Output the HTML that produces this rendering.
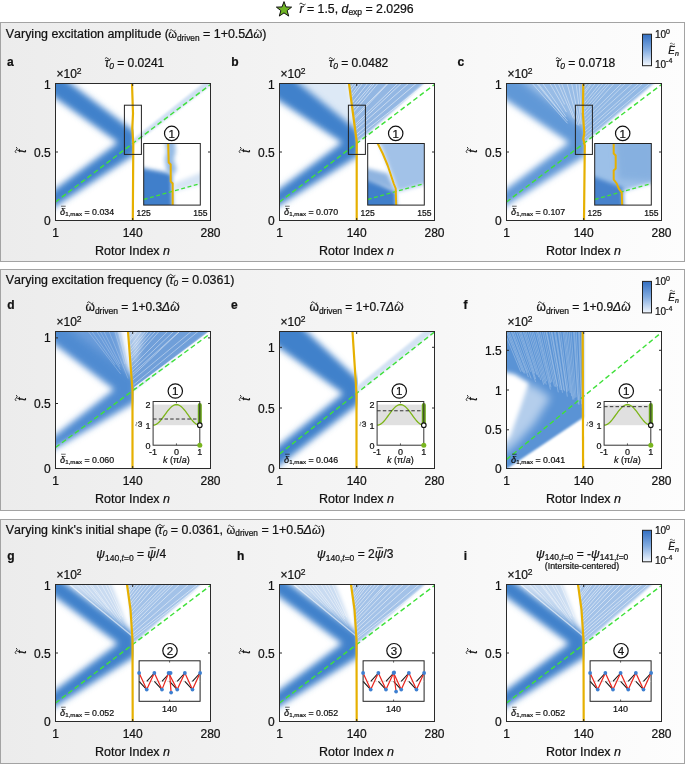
<!DOCTYPE html>
<html><head><meta charset="utf-8"><style>
html,body{margin:0;padding:0;background:#fff;}
body{width:685px;height:764px;overflow:hidden;}
svg{display:block;will-change:transform;font-family:"Liberation Sans", sans-serif;font-kerning:none;}
text{font-family:"Liberation Sans", sans-serif;white-space:pre;stroke:#111;stroke-width:0.22px;}
</style></head><body>
<svg width="685" height="764" viewBox="0 0 685 764">
<defs>
<linearGradient id="bg" x1="0" y1="0" x2="1" y2="0"><stop offset="0" stop-color="#ececec"/><stop offset="1" stop-color="#fdfdfd"/></linearGradient>
<linearGradient id="cb" x1="0" y1="0" x2="0" y2="1"><stop offset="0" stop-color="#336fc2"/><stop offset="0.5" stop-color="#83ace0"/><stop offset="1" stop-color="#f2f7fd"/></linearGradient>
<filter id="bl4" x="-30%" y="-30%" width="160%" height="160%"><feGaussianBlur stdDeviation="4"/></filter>
<filter id="bl3" x="-30%" y="-30%" width="160%" height="160%"><feGaussianBlur stdDeviation="3"/></filter>
<filter id="bl2" x="-30%" y="-30%" width="160%" height="160%"><feGaussianBlur stdDeviation="2"/></filter>
<filter id="bl05" x="-30%" y="-30%" width="160%" height="160%"><feGaussianBlur stdDeviation="0.5"/></filter>
<filter id="bl1" x="-30%" y="-30%" width="160%" height="160%"><feGaussianBlur stdDeviation="1"/></filter>
<clipPath id="cp00"><rect x="55.5" y="83.5" width="155" height="137"/></clipPath>
<clipPath id="vl00"><rect x="55.5" y="83.5" width="78.2" height="137"/></clipPath>
<clipPath id="cp01"><rect x="279.5" y="83.5" width="155" height="137"/></clipPath>
<clipPath id="vl01"><rect x="279.5" y="83.5" width="78.2" height="137"/></clipPath>
<clipPath id="cp02"><rect x="506.5" y="83.5" width="155" height="137"/></clipPath>
<clipPath id="vl02"><rect x="506.5" y="83.5" width="78.2" height="137"/></clipPath>
<clipPath id="cp10"><rect x="55.5" y="331.5" width="155" height="137"/></clipPath>
<clipPath id="vl10"><rect x="55.5" y="331.5" width="78.2" height="137"/></clipPath>
<clipPath id="cp11"><rect x="279.5" y="331.5" width="155" height="137"/></clipPath>
<clipPath id="vl11"><rect x="279.5" y="331.5" width="78.2" height="137"/></clipPath>
<clipPath id="cp12"><rect x="506.5" y="331.5" width="155" height="137"/></clipPath>
<clipPath id="vl12"><rect x="506.5" y="331.5" width="78.2" height="137"/></clipPath>
<clipPath id="cp20"><rect x="55.5" y="584.5" width="155" height="137"/></clipPath>
<clipPath id="vl20"><rect x="55.5" y="584.5" width="78.2" height="137"/></clipPath>
<clipPath id="cp21"><rect x="279.5" y="584.5" width="155" height="137"/></clipPath>
<clipPath id="vl21"><rect x="279.5" y="584.5" width="78.2" height="137"/></clipPath>
<clipPath id="cp22"><rect x="506.5" y="584.5" width="155" height="137"/></clipPath>
<clipPath id="vl22"><rect x="506.5" y="584.5" width="78.2" height="137"/></clipPath>
</defs>
<rect x="0" y="0" width="685" height="764" fill="#fff"/>
<rect x="0.5" y="22.5" width="684" height="239" fill="url(#bg)" stroke="#a3a3a3" stroke-width="1"/>
<rect x="0.5" y="269.5" width="684" height="241" fill="url(#bg)" stroke="#a3a3a3" stroke-width="1"/>
<rect x="0.5" y="519.5" width="684" height="244" fill="url(#bg)" stroke="#a3a3a3" stroke-width="1"/>
<polygon points="284.00,1.60 285.94,6.93 291.61,7.13 287.14,10.62 288.70,16.07 284.00,12.90 279.30,16.07 280.86,10.62 276.39,7.13 282.06,6.93" fill="#6fb524" stroke="#111" stroke-width="1" stroke-linejoin="miter"/>
<text x="299.50" y="12.60" font-size="12.3" font-style="italic" fill="#111">r</text><path d="M299.46,4.05 q1.54,-2.09 3.08,0 t3.08,0" fill="none" stroke="#111" stroke-width="0.86"/><text x="303.60" y="12.60" font-size="12.3" fill="#111"> = 1.5, </text><text x="341.55" y="12.60" font-size="12.3" font-style="italic" fill="#111">d</text><text x="348.39" y="15.20" font-size="8.5" fill="#111">exp</text><text x="362.09" y="12.60" font-size="12.3" fill="#111"> = 2.0296</text>
<text x="5.80" y="38.20" font-size="12.45" fill="#111">Varying excitation amplitude (</text><text x="168.20" y="38.20" font-size="11.205" fill="#111">ω</text><path d="M169.77,30.52 q1.40,-1.90 2.80,0 t2.80,0" fill="none" stroke="#111" stroke-width="0.78"/><text x="176.94" y="40.80" font-size="8.3" fill="#111">driven</text><text x="199.55" y="38.20" font-size="12.45" fill="#111"> = 1+0.5</text><text x="245.24" y="38.20" font-size="12.45" font-style="italic" fill="#111">Δ</text><text x="253.60" y="38.20" font-size="11.205" font-style="italic" fill="#111">ω</text><path d="M256.05,30.52 q1.40,-1.90 2.80,0 t2.80,0" fill="none" stroke="#111" stroke-width="0.78"/><text x="262.32" y="38.20" font-size="12.45" fill="#111">)</text>
<text x="5.80" y="283.80" font-size="12.45" fill="#111">Varying excitation frequency (</text><text x="168.89" y="283.80" font-size="12.45" font-style="italic" fill="#111">τ</text><path d="M169.10,275.40 q1.56,-2.12 3.11,0 t3.11,0" fill="none" stroke="#111" stroke-width="0.87"/><text x="173.55" y="286.40" font-size="8.3" font-style="italic" fill="#111">0</text><text x="178.16" y="283.80" font-size="12.45" fill="#111"> = 0.0361)</text>
<text x="5.80" y="533.80" font-size="12.45" fill="#111">Varying kink's initial shape (</text><text x="158.11" y="533.80" font-size="12.45" font-style="italic" fill="#111">τ</text><path d="M158.32,525.40 q1.56,-2.12 3.11,0 t3.11,0" fill="none" stroke="#111" stroke-width="0.87"/><text x="162.77" y="536.40" font-size="8.3" font-style="italic" fill="#111">0</text><text x="167.38" y="533.80" font-size="12.45" fill="#111"> = 0.0361, </text><text x="226.57" y="533.80" font-size="11.205" fill="#111">ω</text><path d="M228.14,526.12 q1.40,-1.90 2.80,0 t2.80,0" fill="none" stroke="#111" stroke-width="0.78"/><text x="235.32" y="536.40" font-size="8.3" fill="#111">driven</text><text x="257.93" y="533.80" font-size="12.45" fill="#111"> = 1+0.5</text><text x="303.62" y="533.80" font-size="12.45" font-style="italic" fill="#111">Δ</text><text x="311.97" y="533.80" font-size="11.205" font-style="italic" fill="#111">ω</text><path d="M314.43,526.12 q1.40,-1.90 2.80,0 t2.80,0" fill="none" stroke="#111" stroke-width="0.78"/><text x="320.70" y="533.80" font-size="12.45" fill="#111">)</text>
<text x="7.00" y="66.00" font-size="12" font-weight="bold" fill="#111">a</text>
<text x="231.20" y="66.00" font-size="12" font-weight="bold" fill="#111">b</text>
<text x="457.60" y="66.00" font-size="12" font-weight="bold" fill="#111">c</text>
<text x="7.20" y="309.30" font-size="12" font-weight="bold" fill="#111">d</text>
<text x="231.00" y="309.30" font-size="12" font-weight="bold" fill="#111">e</text>
<text x="463.40" y="309.30" font-size="12" font-weight="bold" fill="#111">f</text>
<text x="7.20" y="560.00" font-size="12" font-weight="bold" fill="#111">g</text>
<text x="237.00" y="560.00" font-size="12" font-weight="bold" fill="#111">h</text>
<text x="463.80" y="560.00" font-size="12" font-weight="bold" fill="#111">i</text>
<text x="104.70" y="66.70" font-size="12" font-style="italic" fill="#111">τ</text><path d="M104.91,58.60 q1.50,-2.04 3.00,0 t3.00,0" fill="none" stroke="#111" stroke-width="0.84"/><text x="109.19" y="69.30" font-size="8.5" font-style="italic" fill="#111">0</text><text x="113.92" y="66.70" font-size="12" fill="#111"> = 0.0241</text>
<text x="328.70" y="66.70" font-size="12" font-style="italic" fill="#111">τ</text><path d="M328.91,58.60 q1.50,-2.04 3.00,0 t3.00,0" fill="none" stroke="#111" stroke-width="0.84"/><text x="333.19" y="69.30" font-size="8.5" font-style="italic" fill="#111">0</text><text x="337.92" y="66.70" font-size="12" fill="#111"> = 0.0482</text>
<text x="555.70" y="66.70" font-size="12" font-style="italic" fill="#111">τ</text><path d="M555.91,58.60 q1.50,-2.04 3.00,0 t3.00,0" fill="none" stroke="#111" stroke-width="0.84"/><text x="560.19" y="69.30" font-size="8.5" font-style="italic" fill="#111">0</text><text x="564.92" y="66.70" font-size="12" fill="#111"> = 0.0718</text>
<text x="85.52" y="311.00" font-size="12.0" fill="#111">ω</text><path d="M87.21,302.78 q1.50,-2.04 3.00,0 t3.00,0" fill="none" stroke="#111" stroke-width="0.84"/><text x="94.89" y="313.60" font-size="8.5" fill="#111">driven</text><text x="118.04" y="311.00" font-size="12" fill="#111"> = 1+0.3</text><text x="162.08" y="311.00" font-size="12" font-style="italic" fill="#111">Δ</text><text x="170.13" y="311.00" font-size="12.0" font-style="italic" fill="#111">ω</text><path d="M172.77,302.78 q1.50,-2.04 3.00,0 t3.00,0" fill="none" stroke="#111" stroke-width="0.84"/>
<text x="309.52" y="311.00" font-size="12.0" fill="#111">ω</text><path d="M311.21,302.78 q1.50,-2.04 3.00,0 t3.00,0" fill="none" stroke="#111" stroke-width="0.84"/><text x="318.89" y="313.60" font-size="8.5" fill="#111">driven</text><text x="342.04" y="311.00" font-size="12" fill="#111"> = 1+0.7</text><text x="386.08" y="311.00" font-size="12" font-style="italic" fill="#111">Δ</text><text x="394.13" y="311.00" font-size="12.0" font-style="italic" fill="#111">ω</text><path d="M396.77,302.78 q1.50,-2.04 3.00,0 t3.00,0" fill="none" stroke="#111" stroke-width="0.84"/>
<text x="536.52" y="311.00" font-size="12.0" fill="#111">ω</text><path d="M538.21,302.78 q1.50,-2.04 3.00,0 t3.00,0" fill="none" stroke="#111" stroke-width="0.84"/><text x="545.89" y="313.60" font-size="8.5" fill="#111">driven</text><text x="569.04" y="311.00" font-size="12" fill="#111"> = 1+0.9</text><text x="613.08" y="311.00" font-size="12" font-style="italic" fill="#111">Δ</text><text x="621.13" y="311.00" font-size="12.0" font-style="italic" fill="#111">ω</text><path d="M623.77,302.78 q1.50,-2.04 3.00,0 t3.00,0" fill="none" stroke="#111" stroke-width="0.84"/>
<text x="96.33" y="558.00" font-size="12" font-style="italic" fill="#111">ψ</text><text x="105.06" y="560.60" font-size="8.5" fill="#111">140,</text><text x="121.60" y="560.60" font-size="8.5" font-style="italic" fill="#111">t</text><text x="123.97" y="560.60" font-size="8.5" fill="#111">=0</text><text x="133.66" y="558.00" font-size="12" fill="#111"> = </text><text x="147.33" y="558.00" font-size="12" font-style="italic" fill="#111">ψ</text><path d="M149.66,547.68h6.00" fill="none" stroke="#111" stroke-width="0.84"/><text x="156.06" y="558.00" font-size="12" fill="#111">/4</text>
<text x="316.99" y="558.00" font-size="12" font-style="italic" fill="#111">ψ</text><text x="325.72" y="560.60" font-size="8.5" fill="#111">140,</text><text x="342.27" y="560.60" font-size="8.5" font-style="italic" fill="#111">t</text><text x="344.63" y="560.60" font-size="8.5" fill="#111">=0</text><text x="354.32" y="558.00" font-size="12" fill="#111"> = 2</text><text x="374.67" y="558.00" font-size="12" font-style="italic" fill="#111">ψ</text><path d="M376.99,547.68h6.00" fill="none" stroke="#111" stroke-width="0.84"/><text x="383.40" y="558.00" font-size="12" fill="#111">/3</text>
<text x="536.04" y="557.70" font-size="12" font-style="italic" fill="#111">ψ</text><text x="544.77" y="560.30" font-size="8.5" fill="#111">140,</text><text x="561.31" y="560.30" font-size="8.5" font-style="italic" fill="#111">t</text><text x="563.67" y="560.30" font-size="8.5" fill="#111">=0</text><text x="573.36" y="557.70" font-size="12" fill="#111"> = -</text><text x="591.04" y="557.70" font-size="12" font-style="italic" fill="#111">ψ</text><text x="599.77" y="560.30" font-size="8.5" fill="#111">141,</text><text x="616.31" y="560.30" font-size="8.5" font-style="italic" fill="#111">t</text><text x="618.67" y="560.30" font-size="8.5" fill="#111">=0</text>
<text x="544.83" y="568.90" font-size="8.8" fill="#111">(Intersite-centered)</text>
<rect x="642.5" y="34.2" width="9" height="31.5" fill="url(#cb)" stroke="#222" stroke-width="1"/>
<text x="655.00" y="38.20" font-size="10" fill="#111">10</text><text x="666.12" y="33.70" font-size="7" fill="#111">0</text>
<text x="655.00" y="67.90" font-size="10" fill="#111">10</text><text x="666.12" y="63.40" font-size="7" fill="#111">-4</text>
<text x="668.30" y="53.70" font-size="10" font-style="italic" fill="#111">E</text><path d="M669.94,46.00 q1.25,-1.40 2.50,0 t2.50,0 M669.94,43.76 q1.25,-1.40 2.50,0 t2.50,0" fill="none" stroke="#111" stroke-width="0.60"/><text x="674.97" y="55.70" font-size="7" font-style="italic" fill="#111">n</text>
<rect x="642.5" y="281.4" width="9" height="31.5" fill="url(#cb)" stroke="#222" stroke-width="1"/>
<text x="655.00" y="285.40" font-size="10" fill="#111">10</text><text x="666.12" y="280.90" font-size="7" fill="#111">0</text>
<text x="655.00" y="315.10" font-size="10" fill="#111">10</text><text x="666.12" y="310.60" font-size="7" fill="#111">-4</text>
<text x="668.30" y="300.90" font-size="10" font-style="italic" fill="#111">E</text><path d="M669.94,293.20 q1.25,-1.40 2.50,0 t2.50,0 M669.94,290.96 q1.25,-1.40 2.50,0 t2.50,0" fill="none" stroke="#111" stroke-width="0.60"/><text x="674.97" y="302.90" font-size="7" font-style="italic" fill="#111">n</text>
<rect x="642.5" y="530.3" width="9" height="31.5" fill="url(#cb)" stroke="#222" stroke-width="1"/>
<text x="655.00" y="534.30" font-size="10" fill="#111">10</text><text x="666.12" y="529.80" font-size="7" fill="#111">0</text>
<text x="655.00" y="564.00" font-size="10" fill="#111">10</text><text x="666.12" y="559.50" font-size="7" fill="#111">-4</text>
<text x="668.30" y="549.80" font-size="10" font-style="italic" fill="#111">E</text><path d="M669.94,542.10 q1.25,-1.40 2.50,0 t2.50,0 M669.94,539.86 q1.25,-1.40 2.50,0 t2.50,0" fill="none" stroke="#111" stroke-width="0.60"/><text x="674.97" y="551.80" font-size="7" font-style="italic" fill="#111">n</text>
<rect x="55.5" y="83.5" width="155" height="137" fill="#fff"/>
<g clip-path="url(#cp00)">
<g clip-path="url(#vl00)">
<polygon points="41.50,69.50 51.96,69.50 135.50,132.25 135.50,154.00 41.50,215.45 41.50,199.42 118.00,142.50 41.50,88.03" fill="#4181cb" filter="url(#bl3)"/>
</g>
<polygon points="132.50,139.50 132.50,145.50 210.50,85.50 210.50,77.50" fill="#cfe0f2" filter="url(#bl1)"/>
<polyline points="55.50,202.00 210.50,84.50" fill="none" stroke="#3fe03a" stroke-width="1.4" stroke-dasharray="5 3"/>
<polyline points="132.00,83.50 133.00,113.50 132.30,128.50 133.30,143.50 132.80,220.50" fill="none" stroke="#e6b000" stroke-width="2.2" stroke-linejoin="round"/>
</g>
<rect x="55.5" y="83.5" width="155" height="137" fill="none" stroke="#2a2a2a" stroke-width="1"/>
<text x="44.03" y="225.00" font-size="12" fill="#111">0</text>
<text x="34.02" y="156.50" font-size="12" fill="#111">0.5</text>
<text x="44.03" y="89.40" font-size="12" fill="#111">1</text>
<path d="M55.5,220.5h2.5M210.5,220.5h-2.5M55.5,152.0h2.5M210.5,152.0h-2.5M55.5,83.5h2.5M210.5,83.5h-2.5M55.5,220.5v-2.5M55.5,83.5v2.5M132.7,220.5v-2.5M132.7,83.5v2.5M210.5,220.5v-2.5M210.5,83.5v2.5" stroke="#2a2a2a" stroke-width="1" fill="none"/>
<text x="52.16" y="236.70" font-size="12" fill="#111">1</text>
<text x="122.69" y="236.70" font-size="12" fill="#111">140</text>
<text x="200.49" y="236.70" font-size="12" fill="#111">280</text>
<text x="94.98" y="255.00" font-size="12.5" fill="#111">Rotor Index </text><text x="163.07" y="255.00" font-size="12.5" font-style="italic" fill="#111">n</text>
<text x="56.50" y="78.30" font-size="12" fill="#111">×10</text><text x="76.86" y="73.80" font-size="8.5" fill="#111">2</text>
<g transform="rotate(-90 25.5 151.0)"><text x="23.83" y="151.00" font-size="12" font-style="italic" fill="#111">t</text><path d="M23.46,141.70 q1.50,-2.04 3.00,0 t3.00,0" fill="none" stroke="#111" stroke-width="0.84"/></g>
<text x="60.10" y="214.50" font-size="9.2" font-style="italic" fill="#111">δ</text><path d="M61.09,206.22h4.60" fill="none" stroke="#111" stroke-width="0.64"/><text x="65.21" y="216.30" font-size="6.2" fill="#111">1,max</text><text x="82.10" y="214.50" font-size="8.8" fill="#111"> = 0.034</text>
<rect x="124.40" y="105.20" width="17" height="49.2" fill="none" stroke="#222" stroke-width="1"/>
<clipPath id="ci0"><rect x="143.7" y="143.5" width="56.6" height="61.6"/></clipPath>
<rect x="143.7" y="143.5" width="56.6" height="61.6" fill="#fff"/>
<g clip-path="url(#ci0)">
<polygon points="139.70,167.50 171.70,173.50 172.70,213.50 139.70,213.50" fill="#3f7fcb" filter="url(#bl2)"/>
<polygon points="164.70,139.50 174.70,139.50 175.70,151.50 173.70,159.50 176.70,169.50 172.70,175.50 166.70,171.50 164.70,159.50 166.70,151.50" fill="#93b9e4" filter="url(#bl2)"/>
<polygon points="173.70,183.50 203.70,171.50 203.70,183.50 173.70,191.50" fill="#d6e4f4" filter="url(#bl2)"/>
<polyline points="143.70,199.50 200.30,183.50" fill="none" stroke="#3fe03a" stroke-width="1.3" stroke-dasharray="4 2.5"/>
<polyline points="168.20,143.50 168.70,162.50 170.70,164.50 170.70,181.50 172.70,183.50 172.70,205.50" fill="none" stroke="#e6b000" stroke-width="2" stroke-linejoin="round"/>
</g>
<rect x="143.7" y="143.5" width="56.6" height="61.6" fill="none" stroke="#222" stroke-width="1"/>
<text x="136.61" y="215.80" font-size="8.5" fill="#111">125</text>
<text x="193.21" y="215.80" font-size="8.5" fill="#111">155</text>
<circle cx="171.70" cy="133.40" r="7.2" fill="none" stroke="#111" stroke-width="1.2"/>
<text x="168.50" y="137.70" font-size="11.5" fill="#111" stroke="#111" stroke-width="0.35">1</text>
<rect x="279.5" y="83.5" width="155" height="137" fill="#fff"/>
<g clip-path="url(#cp01)">
<polygon points="293.50,78.50 347.50,78.50 356.50,139.50" fill="#dde9f6" filter="url(#bl2)"/>
<g clip-path="url(#vl01)">
<polygon points="265.50,69.50 282.47,69.50 359.50,132.45 359.50,155.00 265.50,214.09 265.50,199.42 342.00,142.50 265.50,91.70" fill="#4181cb" filter="url(#bl3)"/>
</g>
<polygon points="348.50,78.50 429.50,78.50 359.50,140.50 356.50,142.50" fill="#93b7e3" filter="url(#bl1)"/>
<path d="M350.20,82.52L350.86,81.50M350.74,87.51L354.96,81.50M351.14,90.55L357.59,81.50M351.68,94.52L361.06,81.50M352.00,96.93L364.05,81.50M352.70,102.17L369.19,81.50M353.16,105.63L373.87,81.50M353.56,108.57L376.12,81.50M353.98,111.72L379.56,81.50M354.66,116.81L389.12,81.50M354.89,118.53L390.03,81.50M355.64,124.14L399.81,81.50M355.92,126.20L403.30,81.50M356.35,129.41L410.68,81.50M356.95,133.93L418.54,81.50M357.38,137.11L428.32,81.50" stroke="#fff" stroke-width="1.0" opacity="0.5" fill="none"/>
<polyline points="279.50,202.00 434.50,84.50" fill="none" stroke="#3fe03a" stroke-width="1.4" stroke-dasharray="5 3"/>
<polyline points="349.00,83.50 356.70,141.50 356.70,220.50" fill="none" stroke="#e6b000" stroke-width="2.2" stroke-linejoin="round"/>
</g>
<rect x="279.5" y="83.5" width="155" height="137" fill="none" stroke="#2a2a2a" stroke-width="1"/>
<text x="268.03" y="225.00" font-size="12" fill="#111">0</text>
<text x="258.02" y="156.50" font-size="12" fill="#111">0.5</text>
<text x="268.03" y="89.40" font-size="12" fill="#111">1</text>
<path d="M279.5,220.5h2.5M434.5,220.5h-2.5M279.5,152.0h2.5M434.5,152.0h-2.5M279.5,83.5h2.5M434.5,83.5h-2.5M279.5,220.5v-2.5M279.5,83.5v2.5M356.7,220.5v-2.5M356.7,83.5v2.5M434.5,220.5v-2.5M434.5,83.5v2.5" stroke="#2a2a2a" stroke-width="1" fill="none"/>
<text x="276.16" y="236.70" font-size="12" fill="#111">1</text>
<text x="346.69" y="236.70" font-size="12" fill="#111">140</text>
<text x="424.49" y="236.70" font-size="12" fill="#111">280</text>
<text x="318.98" y="255.00" font-size="12.5" fill="#111">Rotor Index </text><text x="387.07" y="255.00" font-size="12.5" font-style="italic" fill="#111">n</text>
<text x="280.50" y="78.30" font-size="12" fill="#111">×10</text><text x="300.86" y="73.80" font-size="8.5" fill="#111">2</text>
<g transform="rotate(-90 249.5 151.0)"><text x="247.83" y="151.00" font-size="12" font-style="italic" fill="#111">t</text><path d="M247.46,141.70 q1.50,-2.04 3.00,0 t3.00,0" fill="none" stroke="#111" stroke-width="0.84"/></g>
<text x="284.10" y="214.50" font-size="9.2" font-style="italic" fill="#111">δ</text><path d="M285.09,206.22h4.60" fill="none" stroke="#111" stroke-width="0.64"/><text x="289.21" y="216.30" font-size="6.2" fill="#111">1,max</text><text x="306.10" y="214.50" font-size="8.8" fill="#111"> = 0.070</text>
<rect x="348.40" y="105.20" width="17" height="49.2" fill="none" stroke="#222" stroke-width="1"/>
<clipPath id="ci1"><rect x="367.7" y="143.5" width="56.6" height="61.6"/></clipPath>
<rect x="367.7" y="143.5" width="56.6" height="61.6" fill="#fff"/>
<g clip-path="url(#ci1)">
<polygon points="363.70,173.50 395.70,191.50 396.70,213.50 363.70,213.50" fill="#3f7fcb" filter="url(#bl2)"/>
<polygon points="363.70,167.50 387.70,173.50 395.70,191.50 363.70,179.50" fill="#8fb4e0" filter="url(#bl2)"/>
<polygon points="377.70,139.50 427.70,139.50 427.70,183.50 397.70,191.50 379.70,143.50" fill="#a2c2e8" filter="url(#bl2)"/>
<polyline points="367.70,199.50 424.30,183.50" fill="none" stroke="#3fe03a" stroke-width="1.3" stroke-dasharray="4 2.5"/>
<polyline points="377.70,143.50 382.70,153.50 387.70,165.50 393.70,183.50 395.70,188.50 396.20,205.50" fill="none" stroke="#e6b000" stroke-width="2" stroke-linejoin="round"/>
</g>
<rect x="367.7" y="143.5" width="56.6" height="61.6" fill="none" stroke="#222" stroke-width="1"/>
<text x="360.61" y="215.80" font-size="8.5" fill="#111">125</text>
<text x="417.21" y="215.80" font-size="8.5" fill="#111">155</text>
<circle cx="395.70" cy="133.40" r="7.2" fill="none" stroke="#111" stroke-width="1.2"/>
<text x="392.50" y="137.70" font-size="11.5" fill="#111" stroke="#111" stroke-width="0.35">1</text>
<rect x="506.5" y="83.5" width="155" height="137" fill="#fff"/>
<g clip-path="url(#cp02)">
<polygon points="501.50,78.50 584.50,78.50 584.50,141.50 526.50,93.50" fill="#98bce6" filter="url(#bl2)"/>
<g clip-path="url(#vl02)">
<polygon points="492.50,69.50 505.17,69.50 586.50,131.28 586.50,155.00 492.50,214.09 492.50,199.42 569.00,142.50 492.50,90.48" fill="#6098d7" filter="url(#bl3)"/>
</g>
<polygon points="583.50,78.50 659.50,78.50 586.50,140.50 583.50,143.50" fill="#92b8e4" filter="url(#bl1)"/>
<path d="M567.52,123.39L530.54,81.50M564.02,117.32L535.17,81.50M567.56,121.14L536.51,81.50M565.99,116.62L541.28,81.50M566.46,112.08L548.75,81.50M564.74,104.54L553.05,81.50M573.49,118.43L557.47,81.50M577.33,125.20L560.78,81.50M579.02,125.62L566.56,81.50M579.97,124.25L571.23,81.50M581.30,124.34L575.80,81.50M581.30,112.80L578.89,81.50" stroke="#fff" stroke-width="0.9" opacity="0.45" fill="none"/>
<path d="M584.70,82.74L585.52,81.50M584.70,86.65L588.21,81.50M584.70,90.84L591.55,81.50M584.70,93.13L592.95,81.50M584.70,97.29L596.88,81.50M584.70,102.52L601.48,81.50M584.70,105.79L604.76,81.50M584.70,108.99L608.87,81.50M584.70,112.61L611.46,81.50M584.70,115.99L615.87,81.50M584.70,119.94L623.60,81.50M584.70,123.75L627.31,81.50M584.70,126.38L634.47,81.50M584.70,131.23L640.99,81.50M584.70,134.54L644.86,81.50M584.70,138.15L652.19,81.50" stroke="#fff" stroke-width="0.9" opacity="0.45" fill="none"/>
<polyline points="506.50,202.00 661.50,84.50" fill="none" stroke="#3fe03a" stroke-width="1.4" stroke-dasharray="5 3"/>
<polyline points="583.30,83.50 582.90,113.50 584.30,133.50 583.30,138.50 584.80,145.50 584.00,220.50" fill="none" stroke="#e6b000" stroke-width="2.2" stroke-linejoin="round"/>
</g>
<rect x="506.5" y="83.5" width="155" height="137" fill="none" stroke="#2a2a2a" stroke-width="1"/>
<text x="495.03" y="225.00" font-size="12" fill="#111">0</text>
<text x="485.02" y="156.50" font-size="12" fill="#111">0.5</text>
<text x="495.03" y="89.40" font-size="12" fill="#111">1</text>
<path d="M506.5,220.5h2.5M661.5,220.5h-2.5M506.5,152.0h2.5M661.5,152.0h-2.5M506.5,83.5h2.5M661.5,83.5h-2.5M506.5,220.5v-2.5M506.5,83.5v2.5M583.7,220.5v-2.5M583.7,83.5v2.5M661.5,220.5v-2.5M661.5,83.5v2.5" stroke="#2a2a2a" stroke-width="1" fill="none"/>
<text x="503.16" y="236.70" font-size="12" fill="#111">1</text>
<text x="573.69" y="236.70" font-size="12" fill="#111">140</text>
<text x="651.49" y="236.70" font-size="12" fill="#111">280</text>
<text x="545.98" y="255.00" font-size="12.5" fill="#111">Rotor Index </text><text x="614.07" y="255.00" font-size="12.5" font-style="italic" fill="#111">n</text>
<text x="507.50" y="78.30" font-size="12" fill="#111">×10</text><text x="527.86" y="73.80" font-size="8.5" fill="#111">2</text>
<g transform="rotate(-90 476.5 151.0)"><text x="474.83" y="151.00" font-size="12" font-style="italic" fill="#111">t</text><path d="M474.46,141.70 q1.50,-2.04 3.00,0 t3.00,0" fill="none" stroke="#111" stroke-width="0.84"/></g>
<text x="511.10" y="214.50" font-size="9.2" font-style="italic" fill="#111">δ</text><path d="M512.09,206.22h4.60" fill="none" stroke="#111" stroke-width="0.64"/><text x="516.21" y="216.30" font-size="6.2" fill="#111">1,max</text><text x="533.10" y="214.50" font-size="8.8" fill="#111"> = 0.107</text>
<rect x="575.40" y="105.20" width="17" height="49.2" fill="none" stroke="#222" stroke-width="1"/>
<clipPath id="ci2"><rect x="594.7" y="143.5" width="56.6" height="61.6"/></clipPath>
<rect x="594.7" y="143.5" width="56.6" height="61.6" fill="#fff"/>
<g clip-path="url(#ci2)">
<polygon points="590.70,139.50 654.70,139.50 654.70,181.50 622.70,191.50 590.70,193.50" fill="#9cc0e8" filter="url(#bl2)"/>
<polygon points="590.70,175.50 622.70,187.50 623.70,213.50 590.70,213.50" fill="#4682cc" filter="url(#bl2)"/>
<polygon points="614.70,139.50 654.70,139.50 654.70,181.50 618.70,179.50" fill="#86b0e0" filter="url(#bl3)"/>
<polyline points="594.70,199.50 651.30,183.50" fill="none" stroke="#3fe03a" stroke-width="1.3" stroke-dasharray="4 2.5"/>
<polyline points="613.70,143.50 613.70,153.50 615.70,155.50 615.70,168.50 613.70,170.50 613.70,179.50 616.70,183.50 618.70,188.50 621.70,192.50 622.20,205.50" fill="none" stroke="#e6b000" stroke-width="2" stroke-linejoin="round"/>
</g>
<rect x="594.7" y="143.5" width="56.6" height="61.6" fill="none" stroke="#222" stroke-width="1"/>
<text x="587.61" y="215.80" font-size="8.5" fill="#111">125</text>
<text x="644.21" y="215.80" font-size="8.5" fill="#111">155</text>
<circle cx="622.70" cy="133.40" r="7.2" fill="none" stroke="#111" stroke-width="1.2"/>
<text x="619.50" y="137.70" font-size="11.5" fill="#111" stroke="#111" stroke-width="0.35">1</text>
<rect x="55.5" y="331.5" width="155" height="137" fill="#fff"/>
<g clip-path="url(#cp10)">
<polygon points="50.50,326.50 117.50,326.50 132.50,389.50 75.50,341.50" fill="#6a9cda" filter="url(#bl3)"/>
<g clip-path="url(#vl10)">
<polygon points="41.50,317.50 54.17,317.50 135.50,379.28 135.50,402.00 41.50,456.36 41.50,445.89 114.00,389.50 41.50,334.35" fill="#4f8bd1" filter="url(#bl3)"/>
</g>
<polygon points="128.50,326.50 215.50,326.50 134.50,389.50 132.50,390.50" fill="#6f9fd9" filter="url(#bl1)"/>
<polygon points="127.50,326.50 145.50,326.50 133.50,371.50" fill="#ffffff" filter="url(#bl3)" opacity="0.5"/>
<path d="M120.61,373.91L86.71,329.50M115.17,364.76L90.47,329.50M120.36,369.74L95.65,329.50M119.87,366.84L99.04,329.50M120.00,364.13L102.94,329.50M128.08,378.55L108.27,329.50M124.77,364.17L114.20,329.50M126.28,363.73L118.01,329.50M128.55,366.71L122.09,329.50M129.26,365.32L124.47,329.50" stroke="#fff" stroke-width="0.9" opacity="0.25" fill="none"/>
<path d="M129.20,331.51L130.52,329.50M129.52,335.37L133.46,329.50M129.80,338.75L136.21,329.50M129.97,340.76L138.17,329.50M130.42,346.18L143.07,329.50M130.71,349.59L147.18,329.50M130.92,352.19L149.85,329.50M131.23,355.84L153.50,329.50M131.43,358.23L157.18,329.50M131.77,362.29L160.75,329.50M132.14,366.81L169.63,329.50M132.44,370.37L175.67,329.50M132.70,373.50L181.44,329.50M132.88,375.70L181.63,329.50M133.21,379.64L193.64,329.50M133.64,384.76L200.46,329.50" stroke="#fff" stroke-width="1.0" opacity="0.4" fill="none"/>
<path d="M134.5,388.0L212.5,330.0" stroke="#fff" stroke-width="1.8" opacity="0.85"/>
<polyline points="55.50,447.50 210.50,333.50" fill="none" stroke="#3fe03a" stroke-width="1.4" stroke-dasharray="5 3"/>
<polyline points="128.00,331.50 132.50,390.50 132.50,468.50" fill="none" stroke="#e6b000" stroke-width="2.2" stroke-linejoin="round"/>
</g>
<rect x="55.5" y="331.5" width="155" height="137" fill="none" stroke="#2a2a2a" stroke-width="1"/>
<text x="44.03" y="473.00" font-size="12" fill="#111">0</text>
<text x="34.02" y="408.00" font-size="12" fill="#111">0.5</text>
<text x="44.03" y="342.40" font-size="12" fill="#111">1</text>
<path d="M55.5,468.5h2.5M210.5,468.5h-2.5M55.5,403.5h2.5M210.5,403.5h-2.5M55.5,337.9h2.5M210.5,337.9h-2.5M55.5,468.5v-2.5M55.5,331.5v2.5M132.7,468.5v-2.5M132.7,331.5v2.5M210.5,468.5v-2.5M210.5,331.5v2.5" stroke="#2a2a2a" stroke-width="1" fill="none"/>
<text x="52.16" y="484.70" font-size="12" fill="#111">1</text>
<text x="122.69" y="484.70" font-size="12" fill="#111">140</text>
<text x="200.49" y="484.70" font-size="12" fill="#111">280</text>
<text x="94.98" y="503.00" font-size="12.5" fill="#111">Rotor Index </text><text x="163.07" y="503.00" font-size="12.5" font-style="italic" fill="#111">n</text>
<text x="56.50" y="326.30" font-size="12" fill="#111">×10</text><text x="76.86" y="321.80" font-size="8.5" fill="#111">2</text>
<g transform="rotate(-90 25.5 399.0)"><text x="23.83" y="399.00" font-size="12" font-style="italic" fill="#111">t</text><path d="M23.46,389.70 q1.50,-2.04 3.00,0 t3.00,0" fill="none" stroke="#111" stroke-width="0.84"/></g>
<text x="60.10" y="462.50" font-size="9.2" font-style="italic" fill="#111">δ</text><path d="M61.09,454.22h4.60" fill="none" stroke="#111" stroke-width="0.64"/><text x="65.21" y="464.30" font-size="6.2" fill="#111">1,max</text><text x="82.10" y="462.50" font-size="8.8" fill="#111"> = 0.060</text>
<rect x="153.1" y="401.5" width="46.7" height="43.7" fill="#fff"/>
<rect x="153.1" y="404.60" width="46.7" height="20.60" fill="#e0e0e0"/>
<polyline points="153.10,425.20 154.27,425.07 155.44,424.70 156.60,424.08 157.77,423.23 158.94,422.18 160.10,420.95 161.27,419.58 162.44,418.08 163.61,416.51 164.78,414.90 165.94,413.29 167.11,411.72 168.28,410.22 169.44,408.85 170.61,407.62 171.78,406.57 172.95,405.72 174.12,405.10 175.28,404.73 176.45,404.60 177.62,404.73 178.78,405.10 179.95,405.72 181.12,406.57 182.29,407.62 183.45,408.85 184.62,410.22 185.79,411.72 186.96,413.29 188.12,414.90 189.29,416.51 190.46,418.08 191.63,419.58 192.79,420.95 193.96,422.18 195.13,423.23 196.30,424.08 197.47,424.70 198.63,425.07 199.80,425.20" fill="none" stroke="#7cb518" stroke-width="1.3"/>
<path d="M153.1,419.02H199.8" stroke="#333" stroke-width="1" stroke-dasharray="3.5 2.2"/>
<path d="M199.8,405.01V424.17" stroke="#6aa519" stroke-width="4" stroke-linecap="round"/>
<rect x="153.1" y="401.5" width="46.7" height="43.7" fill="none" stroke="#333" stroke-width="1"/>
<path d="M176.45,401.5v1.8M176.45,445.2v-1.8" stroke="#333" stroke-width="0.8"/>
<circle cx="199.8" cy="425.20" r="2.3" fill="#fff" stroke="#111" stroke-width="1.1"/>
<circle cx="199.8" cy="445.20" r="2.5" fill="#79b51f"/>
<text x="145.59" y="408.20" font-size="9" fill="#111">2</text>
<text x="145.59" y="428.80" font-size="9" fill="#111">1</text>
<text x="145.59" y="449.40" font-size="9" fill="#111">0</text>
<text x="149.10" y="455.40" font-size="9" fill="#111">-1</text>
<text x="173.95" y="455.40" font-size="9" fill="#111">0</text>
<text x="197.30" y="455.40" font-size="9" fill="#111">1</text>
<text x="163.09" y="463.00" font-size="9" font-style="italic" fill="#111">k</text><text x="167.59" y="463.00" font-size="9" fill="#111"> (π/</text><text x="181.80" y="463.00" font-size="9" font-style="italic" fill="#111">a</text><text x="186.81" y="463.00" font-size="9" fill="#111">)</text>
<g transform="rotate(-90 142.1 424.14)"><text x="138.98" y="424.14" font-size="8" fill="#111">ω</text><path d="M140.10,418.42 q1.00,-1.36 2.00,0 t2.00,0" fill="none" stroke="#111" stroke-width="0.56"/></g>
<circle cx="175.30" cy="391.00" r="7.2" fill="none" stroke="#111" stroke-width="1.2"/>
<text x="172.10" y="395.30" font-size="11.5" fill="#111" stroke="#111" stroke-width="0.35">1</text>
<rect x="279.5" y="331.5" width="155" height="137" fill="#fff"/>
<g clip-path="url(#cp11)">
<g clip-path="url(#vl11)">
<polygon points="265.50,317.50 291.58,317.50 359.50,380.80 359.50,403.00 265.50,476.27 265.50,456.35 343.00,393.50 265.50,337.97" fill="#4181cb" filter="url(#bl3)"/>
</g>
<polygon points="356.50,386.50 356.50,393.50 434.50,331.50 434.50,322.50" fill="#d3e2f3" filter="url(#bl1)"/>
<polyline points="279.50,454.00 434.50,332.00" fill="none" stroke="#3fe03a" stroke-width="1.4" stroke-dasharray="5 3"/>
<polyline points="352.50,331.50 356.50,393.50 356.50,468.50" fill="none" stroke="#e6b000" stroke-width="2.2" stroke-linejoin="round"/>
</g>
<rect x="279.5" y="331.5" width="155" height="137" fill="none" stroke="#2a2a2a" stroke-width="1"/>
<text x="268.03" y="473.00" font-size="12" fill="#111">0</text>
<text x="258.02" y="412.50" font-size="12" fill="#111">0.5</text>
<text x="268.03" y="351.80" font-size="12" fill="#111">1</text>
<path d="M279.5,468.5h2.5M434.5,468.5h-2.5M279.5,408h2.5M434.5,408h-2.5M279.5,347.3h2.5M434.5,347.3h-2.5M279.5,468.5v-2.5M279.5,331.5v2.5M356.7,468.5v-2.5M356.7,331.5v2.5M434.5,468.5v-2.5M434.5,331.5v2.5" stroke="#2a2a2a" stroke-width="1" fill="none"/>
<text x="276.16" y="484.70" font-size="12" fill="#111">1</text>
<text x="346.69" y="484.70" font-size="12" fill="#111">140</text>
<text x="424.49" y="484.70" font-size="12" fill="#111">280</text>
<text x="318.98" y="503.00" font-size="12.5" fill="#111">Rotor Index </text><text x="387.07" y="503.00" font-size="12.5" font-style="italic" fill="#111">n</text>
<text x="280.50" y="326.30" font-size="12" fill="#111">×10</text><text x="300.86" y="321.80" font-size="8.5" fill="#111">2</text>
<g transform="rotate(-90 249.5 399.0)"><text x="247.83" y="399.00" font-size="12" font-style="italic" fill="#111">t</text><path d="M247.46,389.70 q1.50,-2.04 3.00,0 t3.00,0" fill="none" stroke="#111" stroke-width="0.84"/></g>
<text x="284.10" y="462.50" font-size="9.2" font-style="italic" fill="#111">δ</text><path d="M285.09,454.22h4.60" fill="none" stroke="#111" stroke-width="0.64"/><text x="289.21" y="464.30" font-size="6.2" fill="#111">1,max</text><text x="306.10" y="462.50" font-size="8.8" fill="#111"> = 0.046</text>
<rect x="377.1" y="401.5" width="46.7" height="43.7" fill="#fff"/>
<rect x="377.1" y="404.60" width="46.7" height="20.60" fill="#e0e0e0"/>
<polyline points="377.10,425.20 378.27,425.07 379.44,424.70 380.60,424.08 381.77,423.23 382.94,422.18 384.11,420.95 385.27,419.58 386.44,418.08 387.61,416.51 388.78,414.90 389.94,413.29 391.11,411.72 392.28,410.22 393.45,408.85 394.61,407.62 395.78,406.57 396.95,405.72 398.12,405.10 399.28,404.73 400.45,404.60 401.62,404.73 402.79,405.10 403.95,405.72 405.12,406.57 406.29,407.62 407.46,408.85 408.62,410.22 409.79,411.72 410.96,413.29 412.12,414.90 413.29,416.51 414.46,418.08 415.63,419.58 416.80,420.95 417.96,422.18 419.13,423.23 420.30,424.08 421.47,424.70 422.63,425.07 423.80,425.20" fill="none" stroke="#7cb518" stroke-width="1.3"/>
<path d="M377.1,410.78H423.8" stroke="#333" stroke-width="1" stroke-dasharray="3.5 2.2"/>
<path d="M423.8,405.01V424.17" stroke="#6aa519" stroke-width="4" stroke-linecap="round"/>
<rect x="377.1" y="401.5" width="46.7" height="43.7" fill="none" stroke="#333" stroke-width="1"/>
<path d="M400.45000000000005,401.5v1.8M400.45000000000005,445.2v-1.8" stroke="#333" stroke-width="0.8"/>
<circle cx="423.8" cy="425.20" r="2.3" fill="#fff" stroke="#111" stroke-width="1.1"/>
<circle cx="423.8" cy="445.20" r="2.5" fill="#79b51f"/>
<text x="369.59" y="408.20" font-size="9" fill="#111">2</text>
<text x="369.59" y="428.80" font-size="9" fill="#111">1</text>
<text x="369.59" y="449.40" font-size="9" fill="#111">0</text>
<text x="373.10" y="455.40" font-size="9" fill="#111">-1</text>
<text x="397.95" y="455.40" font-size="9" fill="#111">0</text>
<text x="421.30" y="455.40" font-size="9" fill="#111">1</text>
<text x="387.09" y="463.00" font-size="9" font-style="italic" fill="#111">k</text><text x="391.59" y="463.00" font-size="9" fill="#111"> (π/</text><text x="405.80" y="463.00" font-size="9" font-style="italic" fill="#111">a</text><text x="410.81" y="463.00" font-size="9" fill="#111">)</text>
<g transform="rotate(-90 366.1 424.14)"><text x="362.98" y="424.14" font-size="8" fill="#111">ω</text><path d="M364.10,418.42 q1.00,-1.36 2.00,0 t2.00,0" fill="none" stroke="#111" stroke-width="0.56"/></g>
<circle cx="399.30" cy="391.00" r="7.2" fill="none" stroke="#111" stroke-width="1.2"/>
<text x="396.10" y="395.30" font-size="11.5" fill="#111" stroke="#111" stroke-width="0.35">1</text>
<rect x="506.5" y="331.5" width="155" height="137" fill="#fff"/>
<g clip-path="url(#cp12)">
<polygon points="501.50,326.50 583.50,326.50 583.50,417.50 506.50,469.00 501.50,472.50" fill="#5a93d5" filter="url(#bl1)"/>
<path d="M503.32,329.50L520.72,371.76M505.55,329.50L522.49,371.76M506.86,329.50L524.21,373.52M508.26,329.50L525.25,373.36M510.46,329.50L528.38,377.09M511.64,329.50L527.65,372.69M513.38,329.50L531.11,378.48M515.75,329.50L530.56,371.80M517.79,329.50L535.61,381.89M519.18,329.50L535.67,378.98M520.40,329.50L534.80,373.49M522.53,329.50L536.88,374.83M523.92,329.50L538.70,377.23M525.49,329.50L540.78,380.11M527.66,329.50L543.77,384.81M529.48,329.50L544.74,383.55M531.20,329.50L546.25,384.50M532.89,329.50L546.66,381.37M535.19,329.50L550.43,389.51M536.77,329.50L551.00,387.29M537.96,329.50L550.82,383.01M539.67,329.50L551.87,382.13M541.91,329.50L554.46,386.38M543.73,329.50L555.91,387.00M545.59,329.50L558.32,392.39M546.33,329.50L557.63,386.32M549.02,329.50L560.25,390.06M550.83,329.50L561.53,390.09M551.62,329.50L562.54,392.74M554.09,329.50L563.83,390.19M555.11,329.50L564.71,391.24M557.77,329.50L567.31,396.61M558.62,329.50L567.23,391.86M560.34,329.50L568.27,390.71M562.81,329.50L570.25,392.93M564.30,329.50L571.64,396.25M565.66,329.50L572.90,399.66M567.33,329.50L573.97,399.49M569.06,329.50L574.97,397.98M570.90,329.50L576.13,397.24M573.43,329.50L578.22,403.64M574.47,329.50L578.96,404.90M576.11,329.50L579.77,400.68M578.52,329.50L581.47,404.17M579.47,329.50L582.21,408.04M581.33,329.50L583.17,401.51" stroke="#fff" stroke-width="0.8" opacity="0.33" fill="none"/>
<polygon points="500.50,372.50 536.50,387.50 550.50,397.50 534.50,423.50 516.50,443.50 500.50,457.50" fill="#ffffff" filter="url(#bl4)" opacity="0.55"/>
<polygon points="500.50,371.50 514.50,374.50 528.50,383.50 520.50,407.50 510.50,435.50 500.50,449.50" fill="#ffffff" filter="url(#bl2)"/>
<polyline points="506.50,459.50 661.50,332.50" fill="none" stroke="#3fe03a" stroke-width="1.4" stroke-dasharray="5 3"/>
<polyline points="582.70,331.50 583.10,468.50" fill="none" stroke="#e6b000" stroke-width="2.2" stroke-linejoin="round"/>
</g>
<rect x="506.5" y="331.5" width="155" height="137" fill="none" stroke="#2a2a2a" stroke-width="1"/>
<text x="495.03" y="473.00" font-size="12" fill="#111">0</text>
<text x="485.02" y="434.30" font-size="12" fill="#111">0.5</text>
<text x="495.03" y="394.50" font-size="12" fill="#111">1</text>
<text x="485.02" y="354.80" font-size="12" fill="#111">1.5</text>
<path d="M506.5,468.5h2.5M661.5,468.5h-2.5M506.5,429.8h2.5M661.5,429.8h-2.5M506.5,390h2.5M661.5,390h-2.5M506.5,350.3h2.5M661.5,350.3h-2.5M506.5,468.5v-2.5M506.5,331.5v2.5M583.7,468.5v-2.5M583.7,331.5v2.5M661.5,468.5v-2.5M661.5,331.5v2.5" stroke="#2a2a2a" stroke-width="1" fill="none"/>
<text x="503.16" y="484.70" font-size="12" fill="#111">1</text>
<text x="573.69" y="484.70" font-size="12" fill="#111">140</text>
<text x="651.49" y="484.70" font-size="12" fill="#111">280</text>
<text x="545.98" y="503.00" font-size="12.5" fill="#111">Rotor Index </text><text x="614.07" y="503.00" font-size="12.5" font-style="italic" fill="#111">n</text>
<text x="507.50" y="326.30" font-size="12" fill="#111">×10</text><text x="527.86" y="321.80" font-size="8.5" fill="#111">2</text>
<g transform="rotate(-90 476.5 399.0)"><text x="474.83" y="399.00" font-size="12" font-style="italic" fill="#111">t</text><path d="M474.46,389.70 q1.50,-2.04 3.00,0 t3.00,0" fill="none" stroke="#111" stroke-width="0.84"/></g>
<text x="511.10" y="462.50" font-size="9.2" font-style="italic" fill="#111">δ</text><path d="M512.09,454.22h4.60" fill="none" stroke="#111" stroke-width="0.64"/><text x="516.21" y="464.30" font-size="6.2" fill="#111">1,max</text><text x="533.10" y="462.50" font-size="8.8" fill="#111"> = 0.041</text>
<rect x="604.1" y="401.5" width="46.7" height="43.7" fill="#fff"/>
<rect x="604.1" y="404.60" width="46.7" height="20.60" fill="#e0e0e0"/>
<polyline points="604.10,425.20 605.27,425.07 606.44,424.70 607.60,424.08 608.77,423.23 609.94,422.18 611.11,420.95 612.27,419.58 613.44,418.08 614.61,416.51 615.77,414.90 616.94,413.29 618.11,411.72 619.28,410.22 620.45,408.85 621.61,407.62 622.78,406.57 623.95,405.72 625.12,405.10 626.28,404.73 627.45,404.60 628.62,404.73 629.79,405.10 630.95,405.72 632.12,406.57 633.29,407.62 634.46,408.85 635.62,410.22 636.79,411.72 637.96,413.29 639.12,414.90 640.29,416.51 641.46,418.08 642.63,419.58 643.80,420.95 644.96,422.18 646.13,423.23 647.30,424.08 648.47,424.70 649.63,425.07 650.80,425.20" fill="none" stroke="#7cb518" stroke-width="1.3"/>
<path d="M604.1,406.66H650.8000000000001" stroke="#333" stroke-width="1" stroke-dasharray="3.5 2.2"/>
<path d="M650.8000000000001,405.01V424.17" stroke="#6aa519" stroke-width="4" stroke-linecap="round"/>
<rect x="604.1" y="401.5" width="46.7" height="43.7" fill="none" stroke="#333" stroke-width="1"/>
<path d="M627.45,401.5v1.8M627.45,445.2v-1.8" stroke="#333" stroke-width="0.8"/>
<circle cx="650.8000000000001" cy="425.20" r="2.3" fill="#fff" stroke="#111" stroke-width="1.1"/>
<circle cx="650.8000000000001" cy="445.20" r="2.5" fill="#79b51f"/>
<text x="596.59" y="408.20" font-size="9" fill="#111">2</text>
<text x="596.59" y="428.80" font-size="9" fill="#111">1</text>
<text x="596.59" y="449.40" font-size="9" fill="#111">0</text>
<text x="600.10" y="455.40" font-size="9" fill="#111">-1</text>
<text x="624.95" y="455.40" font-size="9" fill="#111">0</text>
<text x="648.30" y="455.40" font-size="9" fill="#111">1</text>
<text x="614.09" y="463.00" font-size="9" font-style="italic" fill="#111">k</text><text x="618.59" y="463.00" font-size="9" fill="#111"> (π/</text><text x="632.80" y="463.00" font-size="9" font-style="italic" fill="#111">a</text><text x="637.81" y="463.00" font-size="9" fill="#111">)</text>
<g transform="rotate(-90 593.1 424.14)"><text x="589.98" y="424.14" font-size="8" fill="#111">ω</text><path d="M591.10,418.42 q1.00,-1.36 2.00,0 t2.00,0" fill="none" stroke="#111" stroke-width="0.56"/></g>
<circle cx="626.30" cy="391.00" r="7.2" fill="none" stroke="#111" stroke-width="1.2"/>
<text x="623.10" y="395.30" font-size="11.5" fill="#111" stroke="#111" stroke-width="0.35">1</text>
<rect x="55.5" y="584.5" width="155" height="137" fill="#fff"/>
<g clip-path="url(#cp20)">
<polygon points="67.50,579.50 109.50,579.50 132.50,640.50 125.50,634.50" fill="#c9dbf1" filter="url(#bl2)"/>
<path d="M102.97,610.24L74.98,582.50M106.75,612.34L78.46,582.50M119.66,624.72L82.96,582.50M109.09,609.75L87.64,582.50M123.33,627.29L89.69,582.50M123.69,626.05L95.18,582.50M121.03,619.20L100.31,582.50M121.00,616.15L104.42,582.50M122.80,617.26L107.64,582.50" stroke="#fff" stroke-width="0.9" opacity="0.5" fill="none"/>
<g clip-path="url(#vl20)">
<polygon points="41.50,570.50 47.58,570.50 135.50,635.21 135.50,656.00 41.50,715.09 41.50,700.42 118.00,643.50 41.50,586.58" fill="#4181cb" filter="url(#bl3)"/>
</g>
<path d="M68.5,583.5L131.5,635.5" stroke="#fff" stroke-width="1.3" opacity="0.6" filter="url(#bl05)"/>
<polygon points="127.50,579.50 206.50,579.50 135.50,641.50 132.50,642.50" fill="#a3c2e8" filter="url(#bl1)"/>
<path d="M128.20,583.77L129.06,582.50M128.51,587.63L132.12,582.50M128.80,590.62L134.57,582.50M129.03,592.92L136.51,582.50M129.34,596.11L139.46,582.50M129.66,599.39L142.99,582.50M130.05,603.30L146.16,582.50M130.31,605.94L149.89,582.50M130.72,610.14L153.46,582.50M131.02,613.26L158.49,582.50M131.42,617.25L165.04,582.50M131.71,620.25L168.74,582.50M131.89,622.09L172.35,582.50M132.24,625.63L175.25,582.50M132.53,628.60L181.52,582.50M132.94,632.71L190.83,582.50M133.23,635.76L200.04,582.50M133.46,638.04L204.45,582.50" stroke="#fff" stroke-width="1.0" opacity="0.5" fill="none"/>
<polyline points="55.50,703.00 210.50,585.50" fill="none" stroke="#3fe03a" stroke-width="1.4" stroke-dasharray="5 3"/>
<polyline points="127.00,584.50 130.50,609.50 132.50,639.50 132.70,721.50" fill="none" stroke="#e6b000" stroke-width="2.2" stroke-linejoin="round"/>
</g>
<rect x="55.5" y="584.5" width="155" height="137" fill="none" stroke="#2a2a2a" stroke-width="1"/>
<text x="44.03" y="726.00" font-size="12" fill="#111">0</text>
<text x="34.02" y="657.50" font-size="12" fill="#111">0.5</text>
<text x="44.03" y="590.40" font-size="12" fill="#111">1</text>
<path d="M55.5,721.5h2.5M210.5,721.5h-2.5M55.5,653.0h2.5M210.5,653.0h-2.5M55.5,584.5h2.5M210.5,584.5h-2.5M55.5,721.5v-2.5M55.5,584.5v2.5M132.7,721.5v-2.5M132.7,584.5v2.5M210.5,721.5v-2.5M210.5,584.5v2.5" stroke="#2a2a2a" stroke-width="1" fill="none"/>
<text x="52.16" y="737.70" font-size="12" fill="#111">1</text>
<text x="122.69" y="737.70" font-size="12" fill="#111">140</text>
<text x="200.49" y="737.70" font-size="12" fill="#111">280</text>
<text x="94.98" y="756.00" font-size="12.5" fill="#111">Rotor Index </text><text x="163.07" y="756.00" font-size="12.5" font-style="italic" fill="#111">n</text>
<text x="56.50" y="579.30" font-size="12" fill="#111">×10</text><text x="76.86" y="574.80" font-size="8.5" fill="#111">2</text>
<g transform="rotate(-90 25.5 652.0)"><text x="23.83" y="652.00" font-size="12" font-style="italic" fill="#111">t</text><path d="M23.46,642.70 q1.50,-2.04 3.00,0 t3.00,0" fill="none" stroke="#111" stroke-width="0.84"/></g>
<text x="60.10" y="715.50" font-size="9.2" font-style="italic" fill="#111">δ</text><path d="M61.09,707.22h4.60" fill="none" stroke="#111" stroke-width="0.64"/><text x="65.21" y="717.30" font-size="6.2" fill="#111">1,max</text><text x="82.10" y="715.50" font-size="8.8" fill="#111"> = 0.052</text>
<rect x="139.1" y="660.8" width="61" height="40.5" fill="#fff" stroke="#222" stroke-width="1"/>
<path d="M139.1,681.3H200.1" stroke="#ccc" stroke-width="0.8" stroke-dasharray="2 2"/>
<path d="M139.10,681.30L146.72,689.60M146.72,681.30L154.35,673.00M154.35,681.30L161.97,689.60M161.97,681.30L169.60,673.00M169.60,681.30L177.22,689.60M177.22,681.30L184.85,673.00M184.85,681.30L192.47,689.60M192.47,681.30L200.10,673.00" fill="none" stroke="#1a1a1a" stroke-width="1.1"/>
<polyline points="139.10,673.00 146.72,689.60 154.35,673.00 161.97,689.60 168.60,673.00 177.22,689.60 184.85,673.00 192.47,689.60 200.10,673.00" fill="none" stroke="#e8261f" stroke-width="1.2"/>
<path d="M169.6,673.0L170.6,673.0" stroke="#e8261f" stroke-width="1.2"/>
<path d="M169.6,673.0L171.1,692.5999999999999" stroke="#e8261f" stroke-width="1.2"/>
<circle cx="139.10" cy="673.00" r="1.9" fill="#3d7fd0"/>
<circle cx="146.72" cy="689.60" r="1.9" fill="#3d7fd0"/>
<circle cx="154.35" cy="673.00" r="1.9" fill="#3d7fd0"/>
<circle cx="161.97" cy="689.60" r="1.9" fill="#3d7fd0"/>
<circle cx="168.60" cy="673.00" r="1.9" fill="#3d7fd0"/>
<circle cx="177.22" cy="689.60" r="1.9" fill="#3d7fd0"/>
<circle cx="184.85" cy="673.00" r="1.9" fill="#3d7fd0"/>
<circle cx="192.47" cy="689.60" r="1.9" fill="#3d7fd0"/>
<circle cx="200.10" cy="673.00" r="1.9" fill="#3d7fd0"/>
<circle cx="170.60" cy="673.00" r="1.9" fill="#3d7fd0"/>
<circle cx="171.10" cy="692.60" r="1.9" fill="#3d7fd0"/>
<path d="M169.6,660.8v1.8M169.6,701.3v-1.8" stroke="#333" stroke-width="0.8"/>
<text x="162.09" y="712.00" font-size="9" fill="#111">140</text>
<circle cx="170.00" cy="650.70" r="7.2" fill="none" stroke="#111" stroke-width="1.2"/>
<text x="166.80" y="655.00" font-size="11.5" fill="#111" stroke="#111" stroke-width="0.35">2</text>
<rect x="279.5" y="584.5" width="155" height="137" fill="#fff"/>
<g clip-path="url(#cp21)">
<polygon points="291.50,579.50 333.50,579.50 356.50,640.50 349.50,634.50" fill="#c9dbf1" filter="url(#bl2)"/>
<path d="M325.69,610.24L296.48,582.50M330.76,612.34L302.47,582.50M343.54,624.72L306.51,582.50M332.34,609.75L310.21,582.50M347.30,627.29L313.54,582.50M347.82,626.05L319.71,582.50M344.92,619.20L323.98,582.50M344.50,616.15L327.21,582.50M346.71,617.26L331.41,582.50" stroke="#fff" stroke-width="0.9" opacity="0.5" fill="none"/>
<g clip-path="url(#vl21)">
<polygon points="265.50,570.50 271.58,570.50 359.50,635.21 359.50,656.00 265.50,715.09 265.50,700.42 342.00,643.50 265.50,586.58" fill="#4181cb" filter="url(#bl3)"/>
</g>
<path d="M292.5,583.5L355.5,635.5" stroke="#fff" stroke-width="1.3" opacity="0.6" filter="url(#bl05)"/>
<polygon points="351.50,579.50 430.50,579.50 359.50,641.50 356.50,642.50" fill="#a3c2e8" filter="url(#bl1)"/>
<path d="M352.20,583.58L352.89,582.50M352.41,586.61L355.16,582.50M352.72,589.75L357.87,582.50M353.21,594.74L362.35,582.50M353.45,597.27L364.55,582.50M353.74,600.13L367.31,582.50M354.00,602.85L369.69,582.50M354.30,605.87L373.80,582.50M354.60,608.96L377.37,582.50M354.99,612.93L380.90,582.50M355.30,616.10L387.15,582.50M355.60,619.09L388.73,582.50M355.88,621.93L394.13,582.50M356.25,625.76L400.15,582.50M356.56,628.91L405.51,582.50M356.91,632.44L412.48,582.50M357.30,636.44L421.49,582.50M357.47,638.20L430.18,582.50" stroke="#fff" stroke-width="1.0" opacity="0.5" fill="none"/>
<polyline points="279.50,703.00 434.50,585.50" fill="none" stroke="#3fe03a" stroke-width="1.4" stroke-dasharray="5 3"/>
<polyline points="351.00,584.50 354.50,609.50 356.50,639.50 356.70,721.50" fill="none" stroke="#e6b000" stroke-width="2.2" stroke-linejoin="round"/>
</g>
<rect x="279.5" y="584.5" width="155" height="137" fill="none" stroke="#2a2a2a" stroke-width="1"/>
<text x="268.03" y="726.00" font-size="12" fill="#111">0</text>
<text x="258.02" y="657.50" font-size="12" fill="#111">0.5</text>
<text x="268.03" y="590.40" font-size="12" fill="#111">1</text>
<path d="M279.5,721.5h2.5M434.5,721.5h-2.5M279.5,653.0h2.5M434.5,653.0h-2.5M279.5,584.5h2.5M434.5,584.5h-2.5M279.5,721.5v-2.5M279.5,584.5v2.5M356.7,721.5v-2.5M356.7,584.5v2.5M434.5,721.5v-2.5M434.5,584.5v2.5" stroke="#2a2a2a" stroke-width="1" fill="none"/>
<text x="276.16" y="737.70" font-size="12" fill="#111">1</text>
<text x="346.69" y="737.70" font-size="12" fill="#111">140</text>
<text x="424.49" y="737.70" font-size="12" fill="#111">280</text>
<text x="318.98" y="756.00" font-size="12.5" fill="#111">Rotor Index </text><text x="387.07" y="756.00" font-size="12.5" font-style="italic" fill="#111">n</text>
<text x="280.50" y="579.30" font-size="12" fill="#111">×10</text><text x="300.86" y="574.80" font-size="8.5" fill="#111">2</text>
<g transform="rotate(-90 249.5 652.0)"><text x="247.83" y="652.00" font-size="12" font-style="italic" fill="#111">t</text><path d="M247.46,642.70 q1.50,-2.04 3.00,0 t3.00,0" fill="none" stroke="#111" stroke-width="0.84"/></g>
<text x="284.10" y="715.50" font-size="9.2" font-style="italic" fill="#111">δ</text><path d="M285.09,707.22h4.60" fill="none" stroke="#111" stroke-width="0.64"/><text x="289.21" y="717.30" font-size="6.2" fill="#111">1,max</text><text x="306.10" y="715.50" font-size="8.8" fill="#111"> = 0.052</text>
<rect x="363.1" y="660.8" width="61" height="40.5" fill="#fff" stroke="#222" stroke-width="1"/>
<path d="M363.1,681.3H424.1" stroke="#ccc" stroke-width="0.8" stroke-dasharray="2 2"/>
<path d="M363.10,681.30L370.73,689.60M370.73,681.30L378.35,673.00M378.35,681.30L385.98,689.60M385.98,681.30L393.60,673.00M393.60,681.30L401.23,689.60M401.23,681.30L408.85,673.00M408.85,681.30L416.48,689.60M416.48,681.30L424.10,673.00" fill="none" stroke="#1a1a1a" stroke-width="1.1"/>
<polyline points="363.10,673.00 370.73,689.60 378.35,673.00 385.98,689.60 393.60,673.00 401.23,689.60 408.85,673.00 416.48,689.60 424.10,673.00" fill="none" stroke="#e8261f" stroke-width="1.2"/>
<path d="M393.6,673.0L394.1,672.5" stroke="#e8261f" stroke-width="1.2"/>
<path d="M393.6,673.0L396.1,691.5999999999999" stroke="#e8261f" stroke-width="1.2"/>
<circle cx="363.10" cy="673.00" r="1.9" fill="#3d7fd0"/>
<circle cx="370.73" cy="689.60" r="1.9" fill="#3d7fd0"/>
<circle cx="378.35" cy="673.00" r="1.9" fill="#3d7fd0"/>
<circle cx="385.98" cy="689.60" r="1.9" fill="#3d7fd0"/>
<circle cx="393.60" cy="673.00" r="1.9" fill="#3d7fd0"/>
<circle cx="401.23" cy="689.60" r="1.9" fill="#3d7fd0"/>
<circle cx="408.85" cy="673.00" r="1.9" fill="#3d7fd0"/>
<circle cx="416.48" cy="689.60" r="1.9" fill="#3d7fd0"/>
<circle cx="424.10" cy="673.00" r="1.9" fill="#3d7fd0"/>
<circle cx="394.10" cy="672.50" r="1.9" fill="#3d7fd0"/>
<circle cx="396.10" cy="691.60" r="1.9" fill="#3d7fd0"/>
<path d="M393.6,660.8v1.8M393.6,701.3v-1.8" stroke="#333" stroke-width="0.8"/>
<text x="386.09" y="712.00" font-size="9" fill="#111">140</text>
<circle cx="394.00" cy="650.70" r="7.2" fill="none" stroke="#111" stroke-width="1.2"/>
<text x="390.80" y="655.00" font-size="11.5" fill="#111" stroke="#111" stroke-width="0.35">3</text>
<rect x="506.5" y="584.5" width="155" height="137" fill="#fff"/>
<g clip-path="url(#cp22)">
<polygon points="518.50,579.50 560.50,579.50 583.50,640.50 576.50,634.50" fill="#c9dbf1" filter="url(#bl2)"/>
<path d="M554.06,610.24L526.16,582.50M556.88,612.34L527.62,582.50M570.01,624.72L531.45,582.50M560.26,609.75L538.96,582.50M574.28,627.29L540.43,582.50M574.28,626.05L544.44,582.50M571.73,619.20L550.46,582.50M571.27,616.15L553.65,582.50M574.21,617.26L559.70,582.50" stroke="#fff" stroke-width="0.9" opacity="0.5" fill="none"/>
<g clip-path="url(#vl22)">
<polygon points="492.50,570.50 498.58,570.50 586.50,635.21 586.50,656.00 492.50,715.09 492.50,700.42 569.00,643.50 492.50,586.58" fill="#4181cb" filter="url(#bl3)"/>
</g>
<path d="M519.5,583.5L582.5,635.5" stroke="#fff" stroke-width="1.3" opacity="0.6" filter="url(#bl05)"/>
<polygon points="578.50,579.50 657.50,579.50 586.50,641.50 583.50,642.50" fill="#a3c2e8" filter="url(#bl1)"/>
<path d="M579.20,584.04L580.23,582.50M579.41,586.63L582.15,582.50M579.70,589.60L584.65,582.50M580.19,594.55L589.25,582.50M580.44,597.10L591.26,582.50M580.66,599.33L593.63,582.50M581.10,603.84L598.22,582.50M581.42,607.10L602.36,582.50M581.64,609.38L605.20,582.50M582.01,613.12L608.09,582.50M582.34,616.51L612.82,582.50M582.62,619.33L616.83,582.50M582.88,622.01L622.52,582.50M583.31,626.34L627.83,582.50M583.58,629.07L636.16,582.50M583.86,631.99L641.39,582.50M584.18,635.24L644.22,582.50M584.48,638.31L650.39,582.50" stroke="#fff" stroke-width="1.0" opacity="0.5" fill="none"/>
<polyline points="506.50,703.00 661.50,585.50" fill="none" stroke="#3fe03a" stroke-width="1.4" stroke-dasharray="5 3"/>
<polyline points="578.00,584.50 581.50,609.50 583.50,639.50 583.70,721.50" fill="none" stroke="#e6b000" stroke-width="2.2" stroke-linejoin="round"/>
</g>
<rect x="506.5" y="584.5" width="155" height="137" fill="none" stroke="#2a2a2a" stroke-width="1"/>
<text x="495.03" y="726.00" font-size="12" fill="#111">0</text>
<text x="485.02" y="657.50" font-size="12" fill="#111">0.5</text>
<text x="495.03" y="590.40" font-size="12" fill="#111">1</text>
<path d="M506.5,721.5h2.5M661.5,721.5h-2.5M506.5,653.0h2.5M661.5,653.0h-2.5M506.5,584.5h2.5M661.5,584.5h-2.5M506.5,721.5v-2.5M506.5,584.5v2.5M583.7,721.5v-2.5M583.7,584.5v2.5M661.5,721.5v-2.5M661.5,584.5v2.5" stroke="#2a2a2a" stroke-width="1" fill="none"/>
<text x="503.16" y="737.70" font-size="12" fill="#111">1</text>
<text x="573.69" y="737.70" font-size="12" fill="#111">140</text>
<text x="651.49" y="737.70" font-size="12" fill="#111">280</text>
<text x="545.98" y="756.00" font-size="12.5" fill="#111">Rotor Index </text><text x="614.07" y="756.00" font-size="12.5" font-style="italic" fill="#111">n</text>
<text x="507.50" y="579.30" font-size="12" fill="#111">×10</text><text x="527.86" y="574.80" font-size="8.5" fill="#111">2</text>
<g transform="rotate(-90 476.5 652.0)"><text x="474.83" y="652.00" font-size="12" font-style="italic" fill="#111">t</text><path d="M474.46,642.70 q1.50,-2.04 3.00,0 t3.00,0" fill="none" stroke="#111" stroke-width="0.84"/></g>
<text x="511.10" y="715.50" font-size="9.2" font-style="italic" fill="#111">δ</text><path d="M512.09,707.22h4.60" fill="none" stroke="#111" stroke-width="0.64"/><text x="516.21" y="717.30" font-size="6.2" fill="#111">1,max</text><text x="533.10" y="715.50" font-size="8.8" fill="#111"> = 0.052</text>
<rect x="590.1" y="660.8" width="61" height="40.5" fill="#fff" stroke="#222" stroke-width="1"/>
<path d="M590.1,681.3H651.1" stroke="#ccc" stroke-width="0.8" stroke-dasharray="2 2"/>
<path d="M590.10,681.30L597.73,689.60M597.73,681.30L605.35,673.00M605.35,681.30L612.98,689.60M612.98,681.30L620.60,673.00M620.60,681.30L628.23,689.60M628.23,681.30L635.85,673.00M635.85,681.30L643.48,689.60M643.48,681.30L651.10,673.00" fill="none" stroke="#1a1a1a" stroke-width="1.1"/>
<polyline points="590.10,673.00 597.73,689.60 605.35,673.00 612.98,689.60 620.60,673.00 628.23,689.60 635.85,673.00 643.48,689.60 651.10,673.00" fill="none" stroke="#e8261f" stroke-width="1.2"/>
<circle cx="590.10" cy="673.00" r="1.9" fill="#3d7fd0"/>
<circle cx="597.73" cy="689.60" r="1.9" fill="#3d7fd0"/>
<circle cx="605.35" cy="673.00" r="1.9" fill="#3d7fd0"/>
<circle cx="612.98" cy="689.60" r="1.9" fill="#3d7fd0"/>
<circle cx="620.60" cy="673.00" r="1.9" fill="#3d7fd0"/>
<circle cx="628.23" cy="689.60" r="1.9" fill="#3d7fd0"/>
<circle cx="635.85" cy="673.00" r="1.9" fill="#3d7fd0"/>
<circle cx="643.48" cy="689.60" r="1.9" fill="#3d7fd0"/>
<circle cx="651.10" cy="673.00" r="1.9" fill="#3d7fd0"/>
<path d="M620.6,660.8v1.8M620.6,701.3v-1.8" stroke="#333" stroke-width="0.8"/>
<text x="613.09" y="712.00" font-size="9" fill="#111">140</text>
<circle cx="621.00" cy="650.70" r="7.2" fill="none" stroke="#111" stroke-width="1.2"/>
<text x="617.80" y="655.00" font-size="11.5" fill="#111" stroke="#111" stroke-width="0.35">4</text>
</svg>
</body></html>
